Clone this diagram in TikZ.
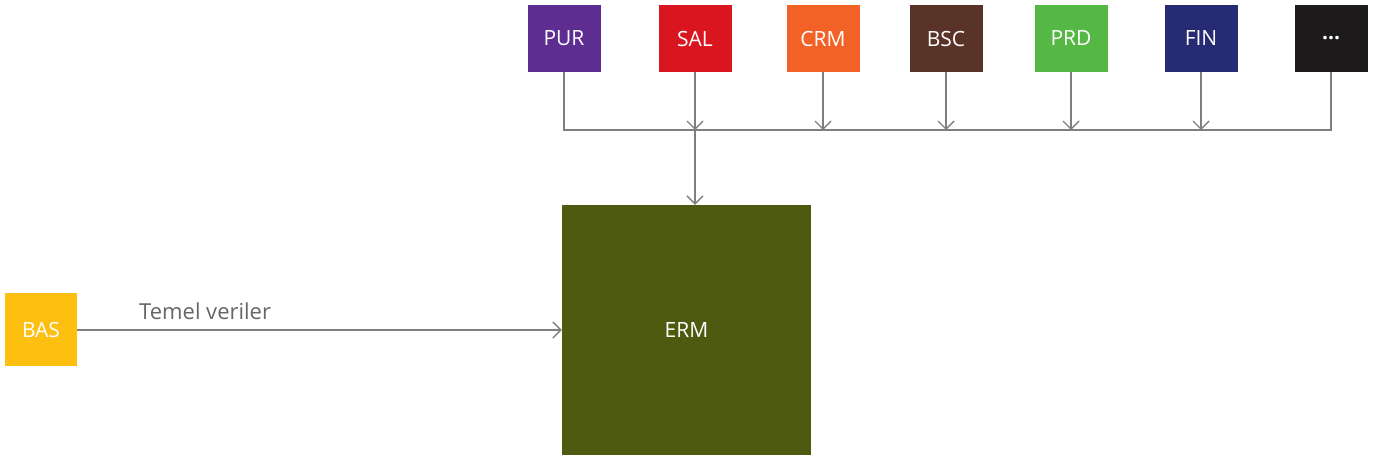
\documentclass[tikz,border=0pt]{standalone}
\usepackage{fontspec}
\setmainfont{Open Sans}
\usetikzlibrary{arrows.meta}
\definecolor{cpur}{HTML}{5E2D91}
\definecolor{csal}{HTML}{D9161F}
\definecolor{ccrm}{HTML}{F26126}
\definecolor{cbsc}{HTML}{5A3328}
\definecolor{cprd}{HTML}{55B845}
\definecolor{cfin}{HTML}{262B73}
\definecolor{cdot}{HTML}{1C1A1A}
\definecolor{cbas}{HTML}{FDC010}
\definecolor{cerm}{HTML}{4E5A10}
\definecolor{cline}{HTML}{7F7F7F}
\begin{document}
\begin{tikzpicture}[x=1pt,y=-1pt,
  mod/.style={minimum width=73pt,minimum height=67pt,inner sep=0pt,text=white,font=\fontsize{21}{24}\selectfont},
  conn/.style={draw=cline,line width=1.4pt},
  arr/.style={conn,-{Straight Barb[length=8pt,width=16pt,line width=1.4pt]}}]
\useasboundingbox (0,0) rectangle (1381,463);
\node[mod,fill=cpur] (pur) at (564,38.5) {PUR};
\node[mod,fill=csal] (sal) at (695,38.5) {SAL};
\node[mod,fill=ccrm] (crm) at (823,38.5) {CRM};
\node[mod,fill=cbsc] (bsc) at (946,38.5) {BSC};
\node[mod,fill=cprd] (prd) at (1071,38.5) {PRD};
\node[mod,fill=cfin] (fin) at (1201,38.5) {FIN};
\node[mod,fill=cdot] (etc) at (1331,38.5) {\textbf{...}};
\node[mod,fill=cerm,minimum width=249pt,minimum height=250pt] (erm) at (686.5,330) {ERM};
\node[mod,fill=cbas,minimum width=72pt,minimum height=73pt] (bas) at (41,329.5) {BAS};
\coordinate (busl) at (564,130);
\coordinate (busr) at (1331,130);
\draw[conn] (pur.south) -- (busl) -- (busr) -- (etc.south);
\foreach \n in {sal,crm,bsc,prd,fin}{
  \draw[arr] (\n.south) -- (\n.south |- busl);
}
\draw[arr] (sal.south |- busl) -- (sal.south |- erm.north);
\draw[arr] (bas.east |- 0,330) -- (erm.west |- 0,330)
  node[pos=0.264,above=6pt,text=black!60,font=\fontsize{22}{24}\selectfont] {Temel veriler};
\end{tikzpicture}
\end{document}
